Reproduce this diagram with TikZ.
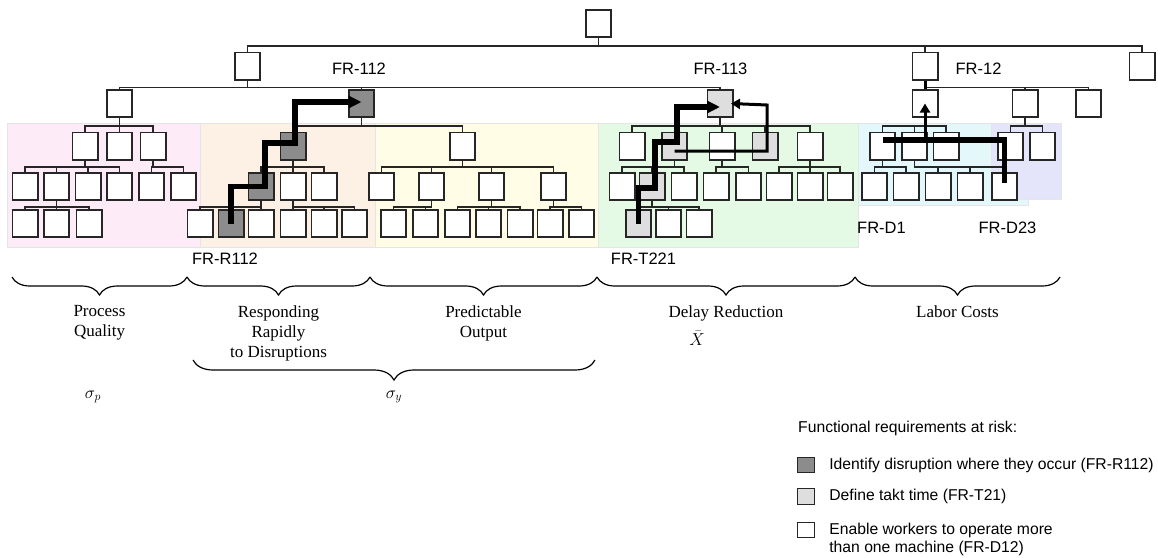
\documentclass[tikz,border=0pt]{standalone}
\usepackage{fontspec}
\setmainfont{Liberation Serif}
\newfontfamily\frfont{Liberation Sans}
\usetikzlibrary{arrows.meta,decorations.pathreplacing,positioning}

\definecolor{bandpink}{RGB}{253,236,247}
\definecolor{bandorange}{RGB}{253,240,228}
\definecolor{bandyellow}{RGB}{255,253,230}
\definecolor{bandgreen}{RGB}{228,250,228}
\definecolor{bandcyan}{RGB}{228,248,252}
\definecolor{bandviolet}{RGB}{228,228,250}
\definecolor{riskdark}{RGB}{140,140,140}
\definecolor{risklight}{RGB}{222,222,222}

\begin{document}
\begin{tikzpicture}[x=1pt,y=-1pt,
  >={Triangle[length=13pt,width=12pt]},
  fr/.style={rectangle,draw=black!85,line width=1.6pt,fill=white,
    minimum width=25.4pt,minimum height=27.4pt,inner sep=0pt},
  frR/.style={fr,fill=riskdark},
  frT/.style={fr,fill=risklight},
  link/.style={draw=black!85,line width=1.3pt},
  band/.style={draw=black!10,line width=0.8pt},
  riskpath/.style={line width=5.5pt,line join=miter},
  riskthin/.style={line width=3pt,line join=miter,
    -{Triangle[length=9pt,width=10pt]}},
  brc/.style={decorate,decoration={brace,mirror,amplitude=18pt},line width=1.2pt},
  frlabel/.style={font=\frfont\fontsize{16.5}{18}\selectfont,inner sep=0pt},
  capt/.style={font=\fontsize{17}{20}\selectfont,align=center,inner sep=0pt,anchor=north},
  legbox/.style={rectangle,draw=black!85,line width=1.3pt,minimum width=17pt,
    minimum height=15.5pt,inner sep=0pt},
  legtext/.style={font=\frfont\fontsize{15.7}{18}\selectfont,inner sep=0pt,align=left}]

  \useasboundingbox (0,0) rectangle (1158,557);

  % coloured areas
  \fill[bandpink,band] (7,123) rectangle (200,247);
  \fill[bandorange,band] (200,123) rectangle (375,247);
  \fill[bandyellow,band] (375,123) rectangle (598,247);
  \fill[bandgreen,band] (598,123) rectangle (858,247);
  \fill[bandcyan,band] (858,123) rectangle (1028,205);
  \fill[bandviolet,band] (991,123) rectangle (1061,199);

  % level 0 and 1
  \node[fr] (top) at (598.5,23.5) {};
  \node[fr] (l1a) at (247.5,66) {};
  \node[fr] (l1b) at (925,66) {};
  \node[fr] (l1c) at (1142,66) {};

  % level 2
  \node[fr]  (q)  at (119.5,103.5) {};
  \node[frR] (r)  at (361.5,103.5) {};
  \node[frT] (t)  at (720,103.5) {};
  \node[fr]  (d1) at (925,103.5) {};
  \node[fr]  (d2) at (1025,103.5) {};
  \node[fr]  (d3) at (1088.5,103.5) {};

  % level 3
  \node[fr]  (q1) at (85,146) {};
  \node[fr]  (q2) at (119.5,146) {};
  \node[fr]  (q3) at (153,146) {};
  \node[frR] (r1) at (293,146) {};
  \node[fr]  (p1) at (462.5,146) {};
  \node[fr]  (t1) at (632,146) {};
  \node[frT] (t2) at (674.5,146) {};
  \node[fr]  (t3) at (722,146) {};
  \node[frT] (t4) at (765,146) {};
  \node[fr]  (t5) at (810,146) {};
  \node[fr]  (c1) at (882.5,146) {};
  \node[fr]  (c2) at (914.5,146) {};
  \node[fr]  (c3) at (946,146) {};
  \node[fr]  (e1) at (1010.5,146) {};
  \node[fr]  (e2) at (1042.5,146) {};

  % level 4
  \node[fr]  (q11) at (25,186.5) {};
  \node[fr]  (q12) at (56.5,186.5) {};
  \node[fr]  (q13) at (88,186.5) {};
  \node[fr]  (q14) at (119.5,186.5) {};
  \node[fr]  (q31) at (151.5,186.5) {};
  \node[fr]  (q32) at (183.5,186.5) {};
  \node[frR] (r11) at (261,186.5) {};
  \node[fr]  (r12) at (293,186.5) {};
  \node[fr]  (r13) at (324,186.5) {};
  \node[fr]  (p11) at (381.5,186.5) {};
  \node[fr]  (p12) at (431.5,186.5) {};
  \node[fr]  (p13) at (491.5,186.5) {};
  \node[fr]  (p14) at (553.5,186.5) {};
  \node[fr]  (t21) at (622,186.5) {};
  \node[frT] (t22) at (652,186.5) {};
  \node[fr]  (t23) at (684,186.5) {};
  \node[fr]  (t31) at (716,186.5) {};
  \node[fr]  (t32) at (748.5,186.5) {};
  \node[fr]  (t51) at (779,186.5) {};
  \node[fr]  (t52) at (810,186.5) {};
  \node[fr]  (t53) at (840,186.5) {};
  \node[fr]  (c11) at (874.5,186.5) {};
  \node[fr]  (c12) at (906,186.5) {};
  \node[fr]  (c21) at (938,186.5) {};
  \node[fr]  (c22) at (970,186.5) {};
  \node[fr]  (c23) at (1004.5,186.5) {};

  % level 5
  \node[fr]  (q121) at (25,223.5) {};
  \node[fr]  (q122) at (56.5,223.5) {};
  \node[fr]  (q123) at (89,223.5) {};
  \node[fr]  (r111) at (200,223.5) {};
  \node[frR] (r112) at (231,223.5) {};
  \node[fr]  (r113) at (261,223.5) {};
  \node[fr]  (r121) at (293,223.5) {};
  \node[fr]  (r122) at (324,223.5) {};
  \node[fr]  (r123) at (354.5,223.5) {};
  \node[fr]  (p121) at (393.5,223.5) {};
  \node[fr]  (p122) at (425.5,223.5) {};
  \node[fr]  (p131) at (457.5,223.5) {};
  \node[fr]  (p132) at (488.5,223.5) {};
  \node[fr]  (p133) at (520,223.5) {};
  \node[fr]  (p141) at (550,223.5) {};
  \node[fr]  (p142) at (581.5,223.5) {};
  \node[frT] (t221) at (638.5,223.5) {};
  \node[fr]  (t222) at (668.5,223.5) {};
  \node[fr]  (t223) at (699,223.5) {};

  % tree connectors
  \foreach \c in {l1a,l1b,l1c} \draw[link] (top.south) -- ++(0,8) -| (\c.north);
  \foreach \c in {q,r,t} \draw[link] (l1a.south) -- ++(0,7) -| (\c.north);
  \foreach \c in {d1,d2,d3} \draw[link] (l1b.south) -- ++(0,7) -| (\c.north);
  \foreach \c in {q1,q2,q3} \draw[link] (q.south) -- ++(0,8) -| (\c.north);
  \foreach \c in {r1,p1} \draw[link] (r.south) -- ++(0,8) -| (\c.north);
  \foreach \c in {t1,t2,t3,t4,t5} \draw[link] (t.south) -- ++(0,8) -| (\c.north);
  \foreach \c in {c1,c2,c3} \draw[link] (d1.south) -- ++(0,8) -| (\c.north);
  \foreach \c in {e1,e2} \draw[link] (d2.south) -- ++(0,8) -| (\c.north);
  \foreach \c in {q11,q12,q13,q14} \draw[link] (q1.south) -- ++(0,6.5) -| (\c.north);
  \foreach \c in {q31,q32} \draw[link] (q3.south) -- ++(0,6.5) -| (\c.north);
  \foreach \c in {r11,r12,r13} \draw[link] (r1.south) -- ++(0,6.5) -| (\c.north);
  \foreach \c in {p11,p12,p13,p14} \draw[link] (p1.south) -- ++(0,6.5) -| (\c.north);
  \foreach \c in {t21,t22,t23} \draw[link] (t2.south) -- ++(0,6.5) -| (\c.north);
  \foreach \c in {t31,t32} \draw[link] (t3.south) -- ++(0,6.5) -| (\c.north);
  \foreach \c in {t51,t52,t53} \draw[link] (t5.south) -- ++(0,6.5) -| (\c.north);
  \foreach \c in {c11,c12} \draw[link] (c1.south) -- ++(0,6.5) -| (\c.north);
  \foreach \c in {c21,c22,c23} \draw[link] (c2.south) -- ++(0,6.5) -| (\c.north);
  \foreach \c in {q121,q122,q123} \draw[link] (q12.south) -- ++(0,6) -| (\c.north);
  \foreach \c in {r111,r112,r113} \draw[link] (r11.south) -- ++(0,6) -| (\c.north);
  \foreach \c in {r121,r122,r123} \draw[link] (r12.south) -- ++(0,6) -| (\c.north);
  \foreach \c in {p121,p122} \draw[link] (p12.south) -- ++(0,6) -| (\c.north);
  \foreach \c in {p131,p132,p133} \draw[link] (p13.south) -- ++(0,6) -| (\c.north);
  \foreach \c in {p141,p142} \draw[link] (p14.south) -- ++(0,6) -| (\c.north);
  \foreach \c in {t221,t222,t223} \draw[link] (t22.south) -- ++(0,6) -| (\c.north);

  % paths of the requirements at risk
  \draw[riskpath,->] (r112.center) |- ([xshift=4pt]r11.center)
    |- ([xshift=2pt,yshift=3pt]r1.center) |- ([yshift=1.5pt]r.center);
  \draw[riskpath,->] (t221.center) |- ([xshift=3pt,yshift=-1.5pt]t22.center)
    |- ([xshift=2.5pt,yshift=4pt]t2.center) |- ([yshift=-3.5pt]t.center);
  \coordinate (tk) at (767,105);
  \draw[riskthin] ([yshift=-5pt]t2.center) -| (tk) -- ([xshift=11pt]t.center);
  \draw[riskpath] ([yshift=3.5pt]c23.center) |- ([yshift=6pt]c1.center);
  \coordinate (dk) at (925,140);
  \draw[riskthin] (dk) -- (d1.center);
  \draw[line width=3pt] (d1.north) -- (l1b.south);

  % requirement labels
  \node[frlabel] (lbl112) at (359,68.5) {FR-112};
  \node[frlabel] (lbl113) at (720.5,68.5) {FR-113};
  \node[frlabel] (lbl12) at (978.5,68.5) {FR-12};
  \node[frlabel] (lblR) at (225,258.5) {FR-R112};
  \node[frlabel] (lblT) at (643.5,258.5) {FR-T221};
  \node[frlabel] (lblD1) at (881.5,227.5) {FR-D1};
  \node[frlabel] (lblD23) at (1007.5,227.5) {FR-D23};

  % braces
  \coordinate (b0) at (12,277);
  \coordinate (b1) at (187,277);
  \coordinate (b2) at (370,277);
  \coordinate (b3) at (597,277);
  \coordinate (b4) at (855,277);
  \coordinate (b5) at (1060,277);
  \draw[brc] (b0) -- (b1);
  \draw[brc] (b1) -- (b2);
  \draw[brc] (b2) -- (b3);
  \draw[brc] (b3) -- (b4);
  \draw[brc] (b4) -- (b5);
  \coordinate (s0) at (193,360);
  \coordinate (s1) at (595,360);
  \draw[brc,decoration={amplitude=20pt}] (s0) -- (s1);

  \node[capt] (quality) at (99.5,305) {Process\\Quality};
  \node[capt] (rapid) at (278.5,305) {Responding\\Rapidly\\to Disruptions};
  \node[capt] (output) at (483.5,305) {Predictable\\Output};
  \node[capt] (delay) at (726,305) {Delay Reduction};
  \node[capt,anchor=center] (xbar) at (697,338) {$\bar{X}$};
  \node[capt] (labor) at (957.5,305) {Labor Costs};
  \node[capt,anchor=center] (sigp) at (93,397) {$\sigma_p$};
  \node[capt,anchor=center] (sigy) at (394,397) {$\sigma_y$};

  % legend
  \node[legtext,anchor=west] (legtitle) at (798,428) {Functional requirements at risk:};
  \node[legbox,fill=riskdark] (keyR) at (806,465) {};
  \node[legbox,fill=risklight] (keyT) at (806,496.5) {};
  \node[legbox,fill=white] (keyD) at (806,530) {};
  \node[legtext,right=14pt of keyR] (txtR) {Identify disruption where they occur (FR-R112)};
  \node[legtext,right=14pt of keyT] (txtT) {Define takt time (FR-T21)};
  \node[legtext,right=14pt of keyD,yshift=-9pt] (txtD)
    {Enable workers to operate more\\than one machine (FR-D12)};
\end{tikzpicture}
\end{document}
